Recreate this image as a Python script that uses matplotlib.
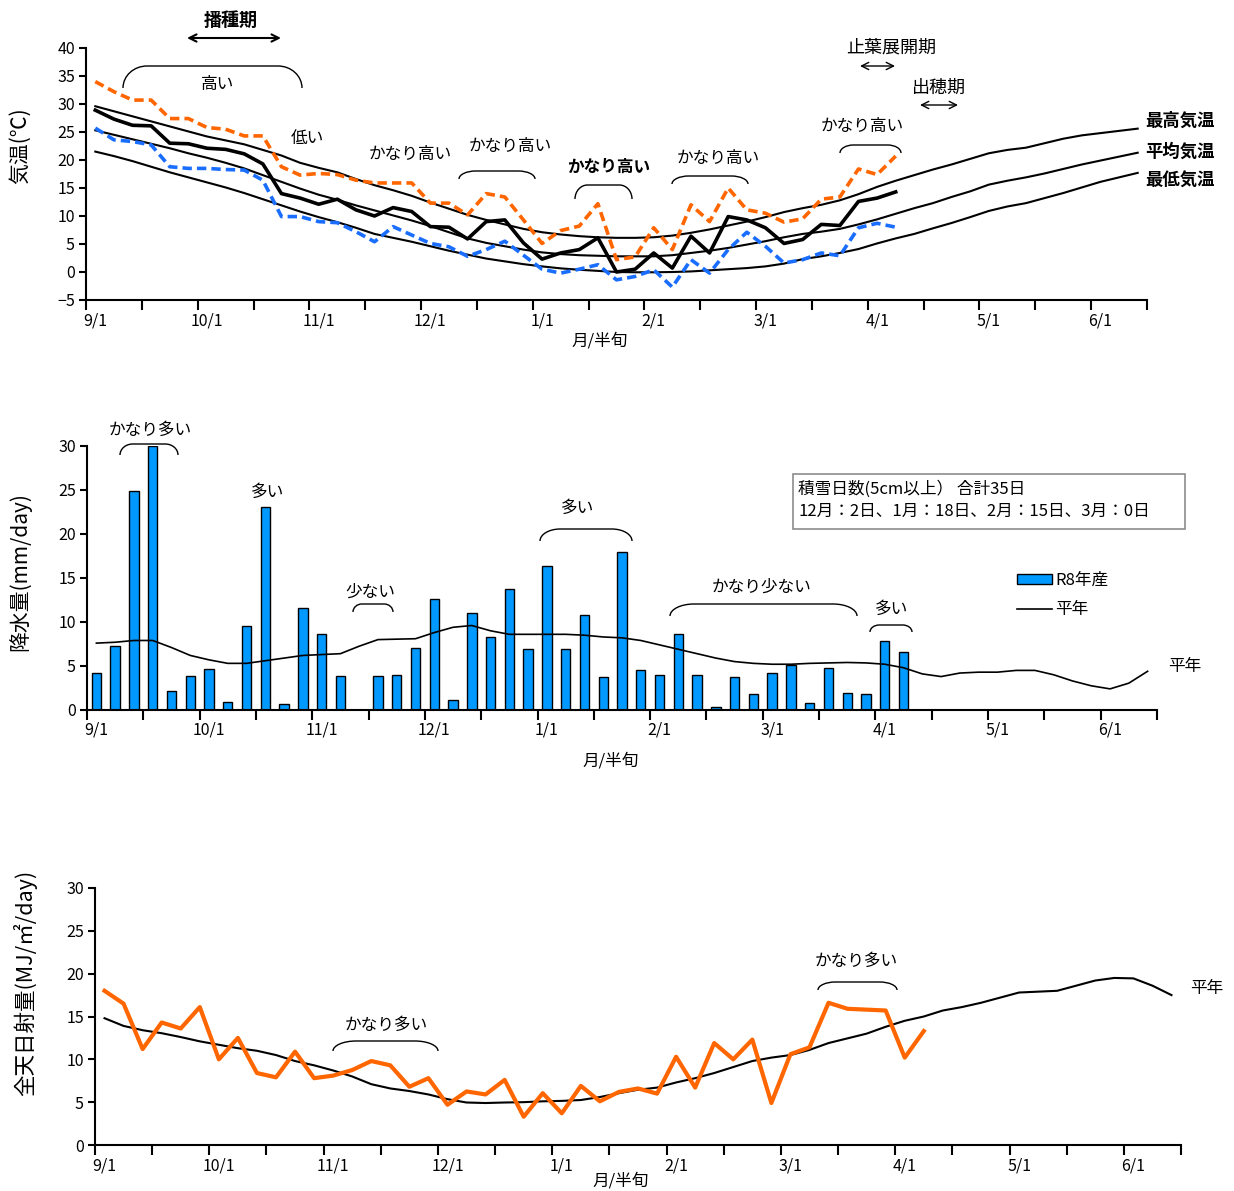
import numpy as np
import matplotlib
matplotlib.use('Agg')
import matplotlib.pyplot as plt
from matplotlib.path import Path
from matplotlib.patches import PathPatch, Rectangle

FONT = ['Noto Sans CJK JP', 'DejaVu Sans']
plt.rcParams['font.family'] = FONT

# ---------------- data ----------------
# categories: pentads (半旬) from 9/1 to 6/15 ; label at first pentad of each month
months = ['9/1', '10/1', '11/1', '12/1', '1/1', '2/1', '3/1', '4/1', '5/1', '6/1']

# temperature (°C) - R8 season
tmax_r8 = [34.0, 32.2, 30.7, 30.7, 27.4, 27.4, 25.8, 25.5, 24.3, 24.3,
           18.8, 17.3, 17.6, 17.4, 16.4, 15.9, 15.9, 15.9, 12.3, 12.3,
           10.2, 14.0, 13.4, 9.3, 5.1, 7.4, 8.2, 12.2, 2.2, 2.7,
           7.9, 4.0, 12.0, 9.0, 15.0, 11.1, 10.5, 8.9, 9.5, 13.0,
           13.4, 18.4, 17.4, 20.7]
tavg_r8 = [28.9, 27.3, 26.2, 26.1, 23.0, 22.9, 22.1, 21.9, 21.1, 19.3,
           14.0, 13.2, 12.1, 13.0, 11.1, 10.0, 11.5, 10.8, 8.1, 8.0,
           5.9, 9.0, 9.3, 5.2, 2.3, 3.4, 4.0, 6.1, 0.0, 0.5,
           3.4, 0.7, 6.4, 3.4, 9.9, 9.3, 7.9, 5.1, 5.8, 8.5,
           8.3, 12.6, 13.2, 14.3]
tmin_r8 = [25.7, 23.6, 23.3, 22.7, 18.8, 18.5, 18.5, 18.3, 18.2, 16.4,
           9.9, 9.9, 9.0, 8.8, 7.2, 5.4, 8.1, 6.6, 5.1, 4.5,
           2.8, 4.0, 5.5, 3.0, 0.5, -0.2, 0.5, 1.3, -1.4, -0.8,
           0.4, -2.7, 2.2, -0.2, 4.0, 7.1, 4.6, 1.6, 2.2, 3.4,
           2.9, 7.9, 8.7, 8.0]
# temperature normals
tmax_norm = [29.6, 28.7, 27.8, 26.9, 26.0, 25.1, 24.2, 23.5, 22.8, 21.8,
             20.8, 19.5, 18.6, 17.8, 16.6, 15.5, 14.6, 13.6, 12.4, 11.3,
             10.2, 9.3, 8.5, 7.7, 7.1, 6.7, 6.4, 6.2, 6.1, 6.1,
             6.2, 6.5, 7.0, 7.6, 8.3, 9.0, 9.8, 10.7, 11.4, 12.0,
             12.8, 13.9, 15.2, 16.3, 17.3, 18.3, 19.2, 20.2, 21.2, 21.8,
             22.2, 23.0, 23.8, 24.4, 24.8, 25.2, 25.6]
tavg_norm = [25.3, 24.5, 23.7, 22.9, 22.1, 21.2, 20.4, 19.5, 18.5, 17.3,
             16.1, 14.9, 13.8, 12.9, 11.9, 11.0, 10.1, 9.2, 8.2, 7.1,
             6.0, 5.2, 4.6, 4.0, 3.5, 3.2, 3.0, 2.9, 2.8, 2.8,
             2.8, 3.0, 3.4, 3.8, 4.3, 4.9, 5.5, 6.2, 6.8, 7.2,
             7.7, 8.5, 9.4, 10.4, 11.4, 12.3, 13.4, 14.4, 15.6, 16.3,
             16.9, 17.6, 18.4, 19.2, 19.9, 20.6, 21.3]
tmin_norm = [21.5, 20.7, 19.8, 18.8, 17.8, 16.9, 16.0, 15.1, 14.1, 13.0,
             11.9, 10.8, 9.8, 8.9, 7.9, 6.8, 6.1, 5.4, 4.6, 3.8,
             3.1, 2.4, 1.9, 1.4, 1.0, 0.65, 0.4, 0.2, 0.0, -0.05,
             -0.05, 0.0, 0.1, 0.3, 0.5, 0.7, 1.0, 1.5, 2.3, 2.8,
             3.4, 4.1, 5.1, 6.0, 6.8, 7.8, 8.75, 9.8, 10.9, 11.7,
             12.3, 13.2, 14.1, 15.1, 16.1, 16.9, 17.7]

# precipitation (mm/day)
prec_r8 = [4.2, 7.3, 24.9, 30.0, 2.2, 3.9, 4.7, 0.9, 9.5, 23.1,
           0.7, 11.6, 8.6, 3.9, 0.0, 3.9, 4.0, 7.0, 12.6, 1.1,
           11.0, 8.3, 13.7, 6.9, 16.4, 6.9, 10.8, 3.7, 18.0, 4.6,
           4.0, 8.6, 4.0, 0.3, 3.7, 1.8, 4.2, 5.1, 0.8, 4.8,
           1.9, 1.8, 7.8, 6.6]
prec_norm = [7.6, 7.7, 7.9, 7.9, 7.1, 6.2, 5.7, 5.3, 5.3, 5.6,
             5.9, 6.2, 6.3, 6.4, 7.25, 8.0, 8.05, 8.1, 8.8, 9.4,
             9.6, 9.0, 8.6, 8.6, 8.6, 8.6, 8.5, 8.3, 8.2, 7.9,
             7.4, 6.9, 6.4, 5.9, 5.5, 5.3, 5.2, 5.2, 5.3, 5.35,
             5.4, 5.35, 5.2, 4.8, 4.1, 3.8, 4.2, 4.3, 4.3, 4.5,
             4.5, 4.0, 3.3, 2.75, 2.4, 3.05, 4.4]

# solar radiation (MJ/m2/day)
rad_r8 = [18.0, 16.5, 11.2, 14.3, 13.6, 16.1, 10.0, 12.5, 8.4, 7.9,
          10.9, 7.8, 8.1, 8.75, 9.8, 9.3, 6.8, 7.8, 4.7, 6.25,
          5.9, 7.6, 3.3, 6.05, 3.7, 6.9, 5.1, 6.2, 6.6, 6.0,
          10.3, 6.7, 11.9, 10.0, 12.3, 4.9, 10.6, 11.4, 16.6, 15.9,
          15.8, 15.7, 10.2, 13.3]
rad_norm = [14.8, 13.9, 13.4, 13.05, 12.6, 12.1, 11.7, 11.3, 11.0, 10.5,
            9.8, 9.3, 8.7, 8.0, 7.1, 6.6, 6.3, 5.9, 5.35, 4.96,
            4.9, 4.96, 5.0, 5.1, 5.15, 5.25, 5.6, 6.05, 6.45, 6.7,
            7.3, 7.8, 8.4, 9.1, 9.8, 10.2, 10.5, 11.1, 11.9, 12.45,
            13.0, 13.8, 14.5, 15.0, 15.7, 16.1, 16.6, 17.2, 17.8, 17.9,
            18.0, 18.6, 19.2, 19.5, 19.45, 18.6, 17.5]

# ---------------- figure ----------------
W, H = 1234, 1191
fig = plt.figure(figsize=(W / 100, H / 100), dpi=100)


def rect(l, t, r, b):
    return [l / W, 1 - b / H, (r - l) / W, (b - t) / H]


n_cat = len(tmax_norm)
x_all = np.arange(n_cat)
x_r8 = np.arange(len(tavg_r8))
month_pos = np.arange(len(months)) * 6


def style_axes(ax, ylim, yticks, pad):
    ax.set_xlim(-0.5, n_cat - 0.5)
    ax.set_ylim(*ylim)
    ax.set_yticks(yticks)
    ax.set_xticks(np.arange(-0.5, n_cat, 3))
    ax.set_xticklabels([])
    ax.set_xticks(month_pos, labels=months, minor=True)
    ax.tick_params(axis='x', which='major', direction='out', length=7, width=1.5)
    ax.tick_params(axis='x', which='minor', length=0, pad=pad, labelsize=11.5)
    ax.tick_params(axis='y', direction='out', length=5, width=1.5, labelsize=11.5, pad=3)
    for s in ['top', 'right']:
        ax.spines[s].set_visible(False)
    for s in ['left', 'bottom']:
        ax.spines[s].set_linewidth(1.5)
    ax.patch.set_alpha(0)


ORANGE = '#FF6600'
BLUE = '#1A6EFF'
BAR = '#0099FF'

# ----- panel 1 : temperature -----
ax1 = fig.add_axes(rect(86, 48, 1147, 300))
for s in (tmax_norm, tavg_norm, tmin_norm):
    ax1.plot(x_all, s, color='black', lw=1.5)
ax1.plot(x_r8, tmax_r8, color=ORANGE, lw=2.6, dashes=(2.6, 1.4))
ax1.plot(x_r8, tmin_r8, color=BLUE, lw=2.6, dashes=(2.6, 1.4))
ax1.plot(x_r8, tavg_r8, color='black', lw=2.6)
style_axes(ax1, (-5, 40), np.arange(-5, 41, 5), 9)

# ----- panel 2 : precipitation -----
ax2 = fig.add_axes(rect(87, 446, 1157, 710))
bars = ax2.bar(x_r8, prec_r8, width=0.5, color=BAR, edgecolor='black',
               linewidth=1.0, label='R8年産', zorder=2)
pline, = ax2.plot(x_all, prec_norm, color='black', lw=1.2, label='平年', zorder=3)
style_axes(ax2, (0, 30), np.arange(0, 31, 5), 8)
ax2.legend(handles=[bars, pline], loc='upper left',
           bbox_to_anchor=(1017 / W, 1 - 572 / H), bbox_transform=fig.transFigure,
           frameon=False, fontsize=12, handlelength=2.1, handleheight=0.5,
           handletextpad=0.2, labelspacing=0.72, borderaxespad=0, borderpad=0)

# ----- panel 3 : solar radiation -----
ax3 = fig.add_axes(rect(95, 888, 1181, 1145))
ax3.plot(x_all, rad_norm, color='black', lw=1.5)
ax3.plot(x_r8, rad_r8, color=ORANGE, lw=3.0)
style_axes(ax3, (0, 30), np.arange(0, 31, 5), 9)

# ----- overlay in pixel coordinates for annotations -----
ov = fig.add_axes([0, 0, 1, 1], zorder=10)
ov.set_xlim(0, W)
ov.set_ylim(H, 0)
ov.axis('off')


def bracket(x1, x2, yt, yb, lw=1.0):
    h = yb - yt
    r = min(24, (x2 - x1) * 0.22)
    k = 0.5523
    verts = [(x1, yb), (x1, yb - k * h), (x1 + (1 - k) * r, yt), (x1 + r, yt),
             (x2 - r, yt),
             (x2 - (1 - k) * r, yt), (x2, yb - k * h), (x2, yb)]
    codes = [Path.MOVETO, Path.CURVE4, Path.CURVE4, Path.CURVE4, Path.LINETO,
             Path.CURVE4, Path.CURVE4, Path.CURVE4]
    ov.add_patch(PathPatch(Path(verts, codes), fill=False, lw=lw, color='black'))


def txt(x, y, s, size=12, weight='normal', ha='center', rot=0):
    ov.text(x, y, s, fontsize=size, fontweight=weight, ha=ha, va='center',
            rotation=rot, family=FONT)


def darrow(x1, x2, y, lw=1.3, ms=13):
    ov.annotate('', xy=(x2, y), xytext=(x1, y),
                arrowprops=dict(arrowstyle='<->', lw=lw, color='black',
                                mutation_scale=ms, shrinkA=0, shrinkB=0))


# axis titles
txt(20, 146, '気温(℃)', size=15, rot=90)
txt(20, 572, '降水量(mm/day)', size=15, rot=90)
txt(25, 983, '全天日射量(MJ/㎡/day)', size=15.5, rot=90)
txt(600, 341, '月/半旬', size=12)
txt(611, 761, '月/半旬', size=12)
txt(621, 1181, '月/半旬', size=12)

# panel 1 annotations
txt(231, 20, '播種期', size=13, weight='bold')
darrow(187, 281, 38, lw=1.5)
txt(891, 47, '止葉展開期', size=13)
darrow(860, 895, 66, lw=1.0)
txt(939, 88, '出穂期', size=13)
darrow(920, 958, 105, lw=1.0)

bracket(123, 302, 66, 88)
txt(218, 84, '高い')
txt(307, 139, '低い')
txt(410, 155, 'かなり高い')
bracket(459, 535, 171, 179)
txt(510, 146, 'かなり高い')
bracket(575, 632, 185, 199)
txt(609, 167, 'かなり高い', weight='bold')
bracket(672, 748, 176, 184)
txt(718, 158, 'かなり高い')
bracket(840, 901, 145, 153)
txt(862, 126, 'かなり高い')

txt(1145, 121, '最高気温', size=12.5, weight='bold', ha='left')
txt(1145, 152, '平均気温', size=12.5, weight='bold', ha='left')
txt(1145, 181, '最低気温', size=12.5, weight='bold', ha='left')

# panel 2 annotations
bracket(120, 178, 444, 455)
txt(150, 430, 'かなり多い')
txt(268, 492, '多い')
bracket(353, 393, 604, 612)
txt(370, 592, '少ない')
bracket(540, 632, 529, 541)
txt(578, 508, '多い')
bracket(670, 857, 604, 616)
txt(762, 587, 'かなり少ない')
bracket(870, 912, 625, 632)
txt(892, 609, '多い')
txt(1185, 667, '平年', ha='center')

ov.add_patch(Rectangle((793, 474), 392, 55, fill=False, ec='#8c8c8c', lw=1.2))
txt(798, 489, '積雪日数(5cm以上） 合計35日', ha='left')
txt(798, 511, '12月：2日、1月：18日、2月：15日、3月：0日', ha='left')

# panel 3 annotations
bracket(333, 438, 1041, 1051)
txt(386, 1025, 'かなり多い')
bracket(818, 897, 982, 990)
txt(856, 961, 'かなり多い')
txt(1207, 988, '平年', ha='center')

fig.savefig('out.png', dpi=100)
